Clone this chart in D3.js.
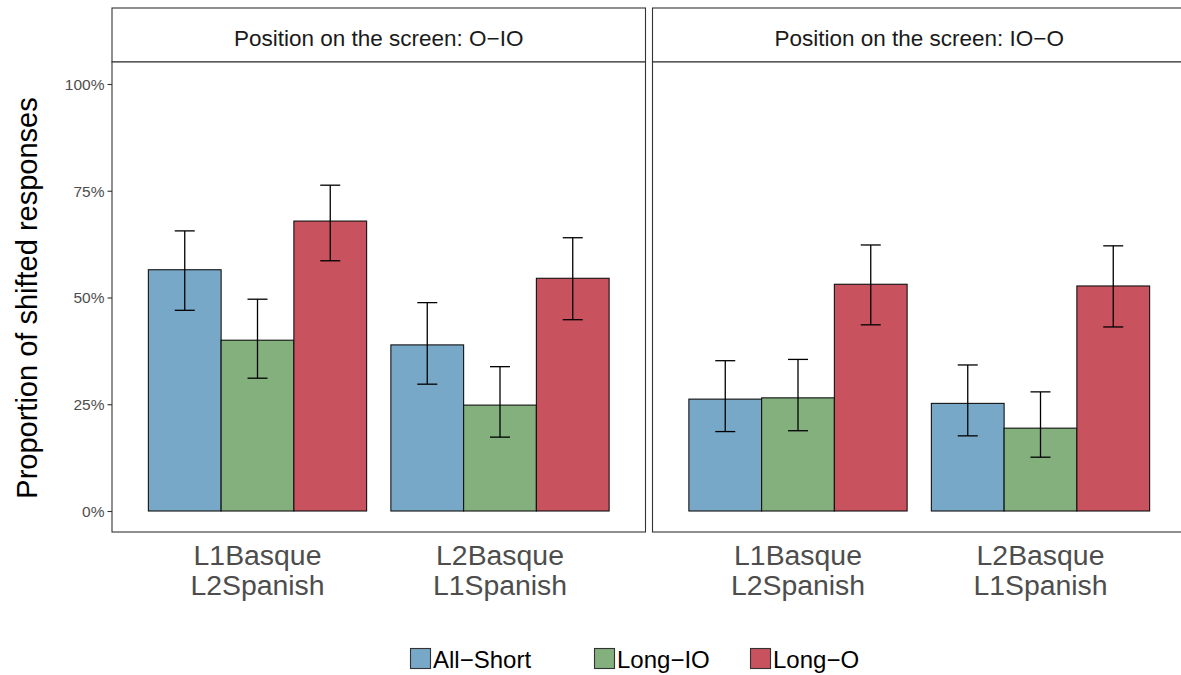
<!DOCTYPE html>
<html><head><meta charset="utf-8">
<script src="https://cdn.jsdelivr.net/npm/d3@7"></script>
<style>body{margin:0;background:#fff}svg{display:block;font-family:"Liberation Sans",Arial,sans-serif}</style>
</head><body><svg id="c" width="1181" height="675"></svg>
<script>
const panels = ["Position on the screen: O\u2212IO", "Position on the screen: IO\u2212O"];
const groups = ["L1Basque\nL2Spanish", "L2Basque\nL1Spanish"];
const conditions = ["All\u2212Short", "Long\u2212IO", "Long\u2212O"];
const colors = ["#78a8c7", "#84b07e", "#c9525f"];
// values per panel, per group, per condition
const means = [
  [[0.565, 0.400, 0.679], [0.389, 0.248, 0.545]],
  [[0.262, 0.265, 0.531], [0.252, 0.194, 0.527]]
];
const upper = [
  [[0.656, 0.496, 0.763], [0.488, 0.338, 0.640]],
  [[0.352, 0.355, 0.623], [0.342, 0.279, 0.621]]
];
const lower = [
  [[0.470, 0.311, 0.586], [0.297, 0.173, 0.448]],
  [[0.186, 0.188, 0.436], [0.176, 0.126, 0.431]]
];
const yTicks = [0, 0.25, 0.5, 0.75, 1];

const svg = d3.select("#c");
const panelX = [112, 652.5], panelW = 533.5;
const stripTop = 8, stripBot = 62, panelBot = 532;
const y = d3.scaleLinear().domain([0, 1]).range([511, 84]);

panels.forEach((p, pi) => {
  const x0 = panelX[pi];
  const g = svg.append("g");
  g.append("rect").attr("x", x0).attr("y", stripTop).attr("width", panelW).attr("height", stripBot - stripTop)
    .attr("fill", "#fff").attr("stroke", "#333").attr("stroke-width", 1.1);
  g.append("text").attr("x", x0 + panelW / 2).attr("y", 46).attr("text-anchor", "middle")
    .attr("font-size", 22.5).attr("fill", "#1a1a1a").text(p);
  g.append("rect").attr("x", x0).attr("y", stripBot).attr("width", panelW).attr("height", panelBot - stripBot)
    .attr("fill", "#fff").attr("stroke", "#333").attr("stroke-width", 1.1);

  const unit = panelW / 2.2;
  const xg = d3.scalePoint().domain(groups).range([x0 + 0.6 * unit, x0 + 1.6 * unit]);
  const xc = d3.scaleBand().domain(conditions).range([-0.45 * unit, 0.45 * unit]);
  const data = [];
  groups.forEach((gr, gi) => conditions.forEach((c, ci) => data.push({gr, c, ci, m: means[pi][gi][ci], u: upper[pi][gi][ci], l: lower[pi][gi][ci]})));
  g.selectAll("rect.bar").data(data).enter().append("rect").attr("class", "bar")
    .attr("x", d => xg(d.gr) + xc(d.c))
    .attr("width", xc.bandwidth())
    .attr("y", d => y(d.m)).attr("height", d => y(0) - y(d.m))
    .attr("fill", d => colors[d.ci]).attr("stroke", "#111").attr("stroke-width", 1.1);
  const cap = 10;
  const eb = g.selectAll("g.eb").data(data).enter().append("g").attr("stroke", "#000").attr("stroke-width", 1.3);
  const cx = d => xg(d.gr) + xc(d.c) + xc.bandwidth() / 2;
  eb.append("line").attr("x1", cx).attr("x2", cx).attr("y1", d => y(d.u)).attr("y2", d => y(d.l));
  eb.append("line").attr("x1", d => cx(d) - cap).attr("x2", d => cx(d) + cap).attr("y1", d => y(d.u)).attr("y2", d => y(d.u));
  eb.append("line").attr("x1", d => cx(d) - cap).attr("x2", d => cx(d) + cap).attr("y1", d => y(d.l)).attr("y2", d => y(d.l));
  groups.forEach(gr => {
    const t = g.append("text").attr("text-anchor", "middle").attr("font-size", 28.4).attr("fill", "#4d4d4d");
    gr.split("\n").forEach((line, li) => t.append("tspan").attr("x", xg(gr)).attr("y", 565 + li * 30).text(line));
  });
});

const ax = svg.append("g").attr("transform", "translate(112,0)")
  .call(d3.axisLeft(y).tickValues(yTicks).tickSize(4.5).tickPadding(3).tickFormat(d3.format(".0%")));
ax.select(".domain").remove();
ax.selectAll(".tick line").attr("stroke", "#333").attr("stroke-width", 1.1);
ax.selectAll(".tick text").attr("font-size", 15.5).attr("fill", "#4d4d4d").attr("font-family", "Liberation Sans, Arial, sans-serif").attr("dy", "0.35em");

svg.append("text").attr("transform", "translate(37,298) rotate(-90)").attr("text-anchor", "middle")
  .attr("font-size", 29).attr("fill", "#000").text("Proportion of shifted responses");

const legX = [410, 594, 750];
conditions.forEach((c, i) => {
  svg.append("rect").attr("x", legX[i] + 0.5).attr("y", 648.5).attr("width", 20).attr("height", 20)
    .attr("fill", colors[i]).attr("stroke", "#333").attr("stroke-width", 1.1);
  svg.append("text").attr("x", legX[i] + 23).attr("y", 668).attr("font-size", 24).attr("fill", "#000").text(c);
});
</script></body></html>
